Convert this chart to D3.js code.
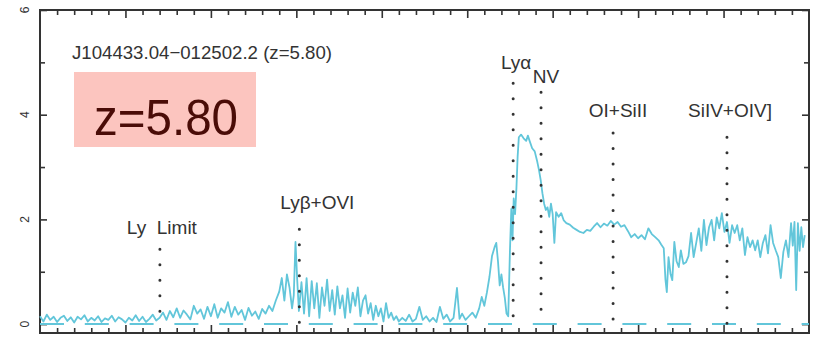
<!DOCTYPE html>
<html>
<head>
<meta charset="utf-8">
<script src="https://cdn.jsdelivr.net/npm/d3@7"></script>
<style>
  html, body { margin: 0; padding: 0; background: #fff; }
  svg { display: block; font-family: "Liberation Sans", Arial, Helvetica, sans-serif; }
</style>
</head>
<body>
<svg id="chart" width="821" height="337"></svg>
<script>
// ── Data ─────────────────────────────────────────────────────────────────────
const objectName = "J104433.04\u2212012502.2";
const redshift   = 5.80;

const wave = [
  5500,5520,5540,5560,5580,5600,5620,5640,5660,5680,
  5700,5720,5740,5760,5780,5800,5820,5840,5860,5880,
  5900,5920,5940,5960,5980,6000,6020,6040,6060,6080,
  6100,6120,6140,6160,6180,6200,6220,6240,6260,6280,
  6300,6320,6340,6360,6380,6400,6420,6440,6460,6480,
  6500,6520,6540,6560,6580,6600,6620,6640,6660,6680,
  6700,6720,6740,6760,6780,6800,6820,6840,6860,6880,
  6900,6915,6930,6945,6960,6975,6985,6995,7005,7015,
  7030,7045,7060,7075,7090,7105,7120,7135,7150,7165,7180,7195,
  7210,7225,7240,7255,7270,7285,7300,7315,7330,7345,7360,7375,7390,
  7405,7420,7435,7450,7465,7480,7495,7510,7525,7540,7555,7570,7585,7600,
  7620,7640,7660,7680,7700,7720,7740,7760,7780,7800,7820,7840,7860,7880,
  7900,7920,7940,7955,7970,7990,8010,8030,8050,8070,8085,8100,8115,
  8130,8145,8160,8170,8180,8190,8200,8210,8220,8230,8240,8250,8258,8265,
  8272,8280,8288,8295,8302,8315,8330,8345,8355,8365,8380,8395,8410,8420,
  8430,8440,8450,8460,8470,8480,8490,8500,8510,8520,8535,8550,8565,8580,
  8600,8620,8640,8660,8680,8700,8720,8740,8760,8780,8800,8820,8840,8860,
  8880,8900,8920,8940,8960,8980,9000,9020,9040,9060,9080,9100,9120,9135,
  9150,9160,9168,9178,9190,9200,9212,9225,9238,9250,9265,9280,9295,9310,
  9325,9340,9355,9370,9385,9400,9415,9430,9445,9460,9475,9490,9505,9520,
  9535,9550,9565,9580,9595,9610,9625,9640,9655,9670,9685,9700,9715,9730,
  9745,9760,9775,9790,9805,9820,9835,9850,9865,9880,9895,9905,9915,9925,
  9935,9945,9955,9965,9975
];
const flux = [
  0.15,0.05,0.18,0.08,0.14,0.04,0.12,0.16,0.06,0.13,
  0.03,0.14,0.09,0.17,0.05,0.12,0.07,0.15,0.04,0.11,
  0.08,0.16,0.05,0.13,0.09,0.03,0.12,0.07,0.17,0.06,
  0.14,0.04,0.10,0.18,0.07,0.12,0.22,0.08,0.25,0.13,
  0.30,0.12,0.26,0.18,0.09,0.35,0.20,0.28,0.10,0.33,
  0.15,0.38,0.12,0.30,0.22,0.42,0.14,0.33,0.18,0.27,
  0.08,0.31,0.16,0.24,0.10,0.29,0.20,0.35,0.25,0.45,
  0.62,0.88,0.45,0.95,0.70,0.30,0.55,1.57,0.85,0.25,
  0.80,0.20,0.88,0.15,0.82,0.30,0.78,0.12,0.70,0.35,0.85,0.25,
  0.65,0.18,0.72,0.30,0.55,0.12,0.68,0.22,0.60,0.35,0.70,0.15,0.45,
  0.55,0.20,0.40,0.08,0.35,0.15,0.30,0.05,0.40,0.12,0.22,0.08,0.15,0.05,
  0.12,0.06,0.18,0.05,0.10,0.33,0.08,0.15,0.05,0.12,0.04,0.33,0.10,0.18,
  0.05,0.12,0.69,0.10,0.20,0.08,0.15,0.22,0.12,0.30,0.52,0.35,0.60,
  0.90,1.30,1.47,1.55,1.20,0.74,0.95,0.70,0.50,0.20,0.15,1.40,2.20,1.60,
  2.40,2.10,2.60,3.20,3.57,3.62,3.55,3.50,3.60,3.50,3.36,3.30,3.10,2.94,
  2.75,2.50,2.30,2.18,2.23,2.05,2.30,2.10,1.55,2.14,2.05,2.12,1.98,1.93,
  1.90,1.84,1.80,1.76,1.74,1.80,1.78,1.86,1.93,1.85,1.92,1.88,1.97,1.90,
  1.95,1.86,1.89,1.78,1.66,1.72,1.64,1.70,1.62,1.83,1.72,1.66,1.60,1.52,
  1.45,0.85,0.61,1.28,0.95,0.84,1.57,1.20,1.09,1.41,1.15,1.18,1.30,1.74,
  1.28,1.55,1.83,1.40,1.99,1.51,1.85,1.99,1.60,2.04,1.83,2.12,1.76,1.95,
  1.55,1.89,1.74,1.89,1.60,1.83,1.32,1.66,1.47,1.60,1.41,1.60,1.28,1.55,
  1.70,1.35,1.89,1.55,1.41,1.28,0.88,1.38,1.60,1.28,1.93,1.50,1.95,0.65,
  1.93,1.40,1.85,1.47,1.70
];

// emission-line markers: label, rest wavelength (Å), label height and dotted-line top (flux units)
const lineNames  = ["Ly  Limit", "Ly\u03B2+OVI", "Ly\u03B1", "NV", "OI+SiII", "SiIV+OIV]"];
const lineRest   = [912, 1032, 1216, 1240, 1302, 1400];
const lineLabelY = [1.85, 2.33, 5.0, 4.74, 4.09, 4.09];
const lineTopY   = [1.43, 1.81, 4.60, 4.43, 3.65, 3.57];

const yMajor = [0, 2, 4, 6];
const yMinor = [1, 3, 5];

// ── Chart ────────────────────────────────────────────────────────────────────
const svg = d3.select("#chart");
const margin = { top: 10, right: 12, bottom: 4, left: 40 };
const W = 821, H = 337;
const w = W - margin.left - margin.right;
const h = H - margin.top - margin.bottom;

const CYAN = "#62c6da";
const INK  = "#333";

const g = svg.append("g").attr("transform", `translate(${margin.left},${margin.top})`);
const x = d3.scaleLinear().domain([5500, 10000]).range([0, w]);
const y = d3.scaleLinear().domain([-0.17, 6]).range([h, 0]);

const minorX = d3.range(5600, 10000, 100).filter(v => v % 500 !== 0);
const majorX = d3.range(6000, 10000, 500);

// ticks: bottom / top (inward)
g.append("g").attr("transform", `translate(0,${h})`)
  .call(d3.axisBottom(x).tickValues(minorX).tickSize(-5).tickFormat(""));
g.append("g").attr("transform", `translate(0,${h})`)
  .call(d3.axisBottom(x).tickValues(majorX).tickSize(-8).tickFormat(""));
g.append("g")
  .call(d3.axisTop(x).tickValues(minorX).tickSize(-5).tickFormat(""));
g.append("g")
  .call(d3.axisTop(x).tickValues(majorX).tickSize(-8).tickFormat(""));
// ticks: left / right (inward)
g.append("g").call(d3.axisLeft(y).tickValues(yMinor).tickSize(-5).tickFormat(""));
g.append("g").call(d3.axisLeft(y).tickValues(yMajor).tickSize(-7).tickFormat(""));
g.append("g").attr("transform", `translate(${w},0)`)
  .call(d3.axisRight(y).tickValues(yMinor).tickSize(-5).tickFormat(""));
g.append("g").attr("transform", `translate(${w},0)`)
  .call(d3.axisRight(y).tickValues(yMajor).tickSize(-7).tickFormat(""));

g.selectAll(".domain").remove();
g.selectAll(".tick line").attr("stroke", INK).attr("stroke-width", 1.6);

// frame
g.append("rect")
  .attr("x", 0).attr("y", 0).attr("width", w).attr("height", h)
  .attr("fill", "none").attr("stroke", INK).attr("stroke-width", 2);

// y tick labels (vertical)
g.selectAll(null).data(yMajor).join("text")
  .attr("transform", d => `translate(-15,${y(d)}) rotate(-90)`)
  .attr("text-anchor", "middle")
  .attr("dy", "0.35em")
  .attr("font-size", 12)
  .attr("fill", INK)
  .text(d => d);

// zero level (dashed)
g.append("line")
  .attr("x1", 0).attr("x2", w)
  .attr("y1", y(0)).attr("y2", y(0))
  .attr("stroke", CYAN).attr("stroke-width", 2)
  .attr("stroke-dasharray", "24 20.8");

// spectrum
const pts = wave.map((d, i) => [d, flux[i]]);
g.append("path").datum(pts)
  .attr("fill", "none")
  .attr("stroke", CYAN)
  .attr("stroke-width", 1.8)
  .attr("stroke-linejoin", "round")
  .attr("d", d3.line().x(d => x(d[0])).y(d => y(d[1])));

// line markers
const labelShift = [2, 18, 3, 5, 5, 3];
lineNames.forEach((name, i) => {
  const lx = x(lineRest[i] * (1 + redshift));
  g.append("line")
    .attr("x1", lx).attr("x2", lx)
    .attr("y1", y(lineTopY[i])).attr("y2", y(0))
    .attr("stroke", INK).attr("stroke-width", 3)
    .attr("stroke-linecap", "round")
    .attr("stroke-dasharray", "0 15.5");
  g.append("text")
    .attr("x", lx + labelShift[i])
    .attr("y", y(lineLabelY[i]))
    .attr("dy", "0.36em")
    .attr("text-anchor", "middle")
    .attr("font-size", 19)
    .attr("fill", INK)
    .style("white-space", "pre")
    .text(name);
});

// title
g.append("text")
  .attr("x", 32).attr("y", 49)
  .attr("font-size", 19)
  .attr("fill", INK)
  .attr("textLength", 260).attr("lengthAdjust", "spacingAndGlyphs")
  .text(`${objectName} (z=${redshift.toFixed(2)})`);

// redshift callout
const badge = svg.append("g").attr("transform", "translate(74,72)");
badge.append("rect")
  .attr("width", 182).attr("height", 75)
  .attr("fill", "#fcc5bf");
badge.append("text")
  .attr("x", 20).attr("y", 63)
  .attr("font-size", 50)
  .attr("fill", "#4a0c07")
  .attr("textLength", 144).attr("lengthAdjust", "spacingAndGlyphs")
  .text(`z=${redshift.toFixed(2)}`);
</script>
</body>
</html>
